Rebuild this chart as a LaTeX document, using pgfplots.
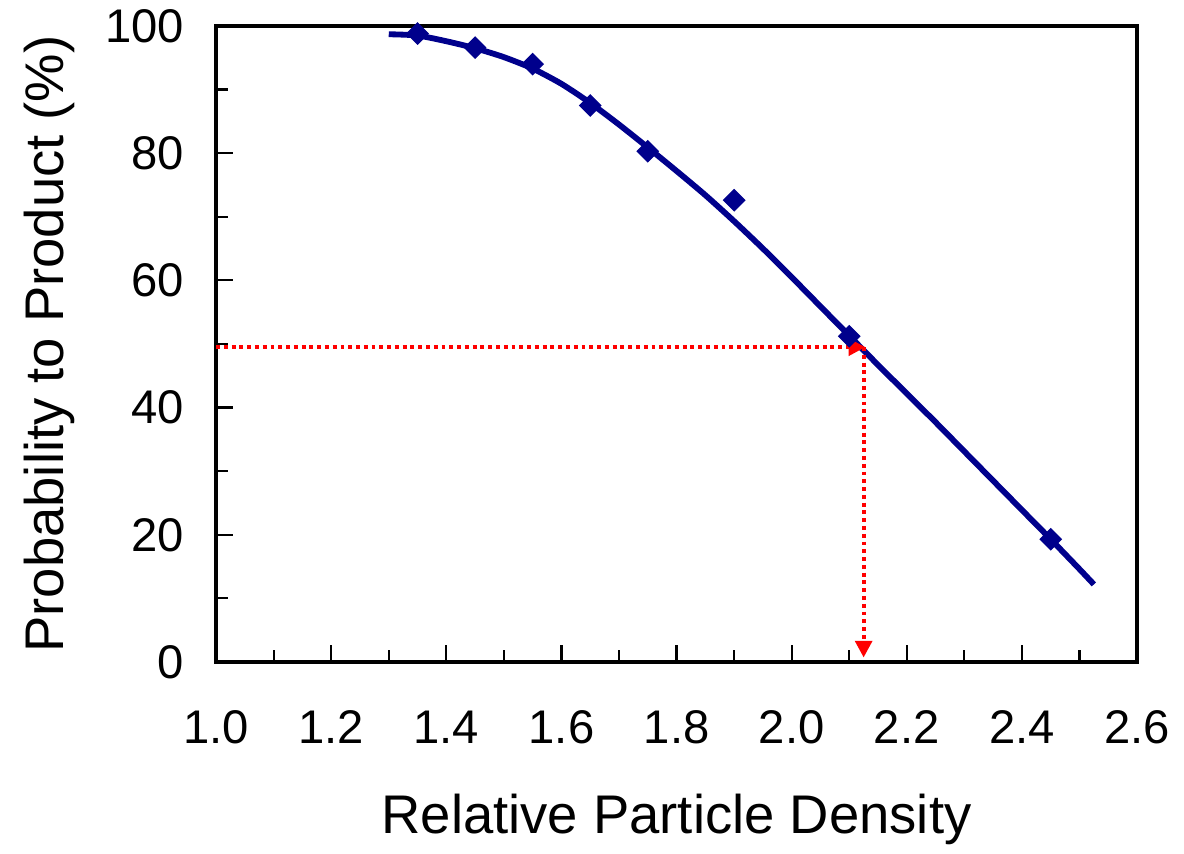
\documentclass[border=0pt]{standalone}
\usepackage{fontspec}
\setmainfont{Liberation Sans}
\usepackage{pgfplots}
\pgfplotsset{compat=1.18}
\usetikzlibrary{arrows.meta}
\definecolor{navyline}{RGB}{0,0,140}

\begin{document}
\begin{tikzpicture}
\begin{axis}[
    scale only axis,
    width=331.6pt,
    height=229pt,
    xmin=1.0, xmax=2.6,
    ymin=0, ymax=100,
    xtick={1.0,1.2,...,2.6},
    ytick={0,20,...,100},
    minor x tick num=1,
    minor y tick num=1,
    tick pos=left,
    tick align=inside,
    major tick length=6pt,
    minor tick length=4.3pt,
    every tick/.style={black, line width=0.8pt},
    axis line style={line width=1.4pt},
    /pgf/number format/assume math mode=true,
    x tick label style={/pgf/number format/.cd, fixed, fixed zerofill, precision=1, /tikz/.cd},
    tick label style={font=\fontsize{17pt}{20pt}\selectfont},
    xticklabel style={yshift=-14pt},
    yticklabel style={xshift=-8pt},
    xlabel={Relative Particle Density},
    ylabel={Probability to Product (\%)},
    label style={font=\fontsize{19.6pt}{23pt}\selectfont},
    xlabel style={yshift=-11pt},
    ylabel style={yshift=4pt},
    clip=false,
]
% fitted curve
\addplot[navyline, line width=2.1pt, smooth, tension=0.4] coordinates {
    (1.30,98.7) (1.35,98.5) (1.40,97.6) (1.45,96.5) (1.50,95.1) (1.55,93.3)
    (1.60,90.9) (1.65,87.9) (1.70,84.5) (1.75,80.9) (1.80,77.2) (1.85,73.4)
    (1.90,69.3) (1.95,65.0) (2.00,60.5) (2.05,55.9) (2.10,51.3) (2.15,46.7)
    (2.20,42.2) (2.25,37.7) (2.30,33.1) (2.35,28.5) (2.40,23.9) (2.45,19.3)
    (2.50,14.6) (2.525,12.2)
};
% measured points
\addplot[only marks, mark=square*, mark size=2.7pt, navyline, mark options={rotate=45, fill=navyline, draw=navyline}] coordinates {
    (1.35,98.8) (1.45,96.6) (1.55,94.0) (1.65,87.5) (1.75,80.3) (1.90,72.6) (2.10,51.2) (2.45,19.3)
};
% read-off lines
\addplot[red, line width=1.4pt, dash pattern=on 1.4pt off 1.4pt, -{Triangle[width=6pt,length=6pt]}] coordinates {
    (1.0,49.5) (2.128,49.5)
};
\addplot[red, line width=1.4pt, dash pattern=on 1.4pt off 1.4pt, -{Triangle[width=6pt,length=6pt]}] coordinates {
    (2.125,49.5) (2.125,0.7)
};
\end{axis}
\path (current axis.south west) ++(-77.8pt,-67.7pt) (current axis.north east) ++(16.9pt,7.9pt);
\end{tikzpicture}
\end{document}
